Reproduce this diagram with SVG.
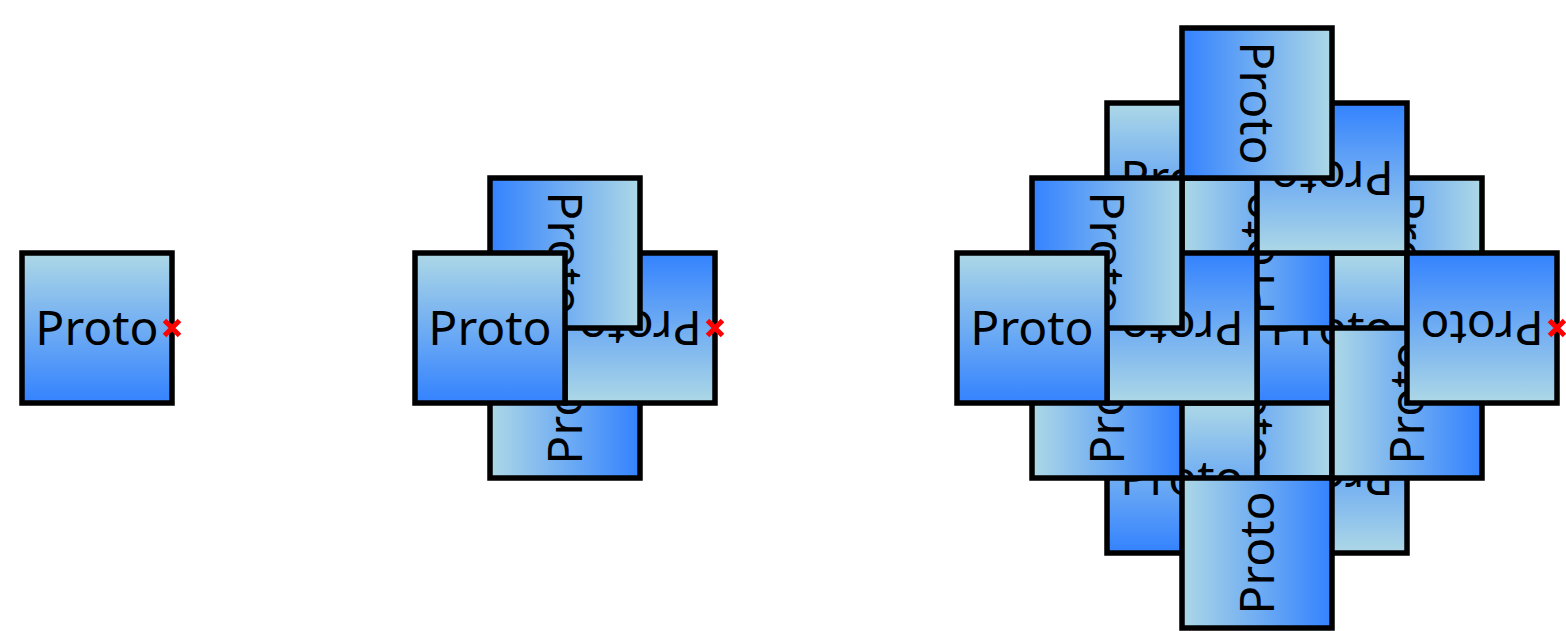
<svg xmlns="http://www.w3.org/2000/svg" width="1566" height="631" viewBox="0 0 1566 631">
<defs>
<linearGradient id="g" x1="0" y1="0" x2="0" y2="1">
<stop offset="0" stop-color="#add8e6"/>
<stop offset="1" stop-color="#3382ff"/>
</linearGradient>
<style>
.sq{fill:url(#g);stroke:#000;stroke-width:5.5}
.lb{font-family:"Noto Sans","DejaVu Sans",sans-serif;font-size:48px;fill:#000;text-anchor:middle}
.mk{stroke:#ff0000;stroke-width:5;fill:none}
</style>
</defs>
<rect width="1566" height="631" fill="#ffffff"/>
<g id="connectors"/>
<!-- level 0 -->
<g id="l0" transform="translate(97,328) rotate(0)"><rect class="sq" x="-75" y="-75" width="150" height="150"/><text class="lb" x="0" y="17">Proto</text></g>
<!-- level 1 -->
<g id="l1-270" transform="translate(565,403) rotate(270)"><rect class="sq" x="-75" y="-75" width="150" height="150"/><text class="lb" x="0" y="17">Proto</text></g>
<g id="l1-180" transform="translate(640,328) rotate(180)"><rect class="sq" x="-75" y="-75" width="150" height="150"/><text class="lb" x="0" y="17">Proto</text></g>
<g id="l1-90" transform="translate(565,253) rotate(90)"><rect class="sq" x="-75" y="-75" width="150" height="150"/><text class="lb" x="0" y="17">Proto</text></g>
<g id="l1-0" transform="translate(490,328) rotate(0)"><rect class="sq" x="-75" y="-75" width="150" height="150"/><text class="lb" x="0" y="17">Proto</text></g>
<!-- level 2, copy rotated 270 -->
<g id="l2-a1" transform="translate(1332,478) rotate(180)"><rect class="sq" x="-75" y="-75" width="150" height="150"/><text class="lb" x="0" y="17">Proto</text></g>
<g id="l2-a2" transform="translate(1257,403) rotate(90)"><rect class="sq" x="-75" y="-75" width="150" height="150"/><text class="lb" x="0" y="17">Proto</text></g>
<g id="l2-a3" transform="translate(1182,478) rotate(0)"><rect class="sq" x="-75" y="-75" width="150" height="150"/><text class="lb" x="0" y="17">Proto</text></g>
<g id="l2-a4" transform="translate(1257,553) rotate(270)"><rect class="sq" x="-75" y="-75" width="150" height="150"/><text class="lb" x="0" y="17">Proto</text></g>
<!-- level 2, copy rotated 180 -->
<g id="l2-b1" transform="translate(1407,253) rotate(90)"><rect class="sq" x="-75" y="-75" width="150" height="150"/><text class="lb" x="0" y="17">Proto</text></g>
<g id="l2-b2" transform="translate(1332,328) rotate(0)"><rect class="sq" x="-75" y="-75" width="150" height="150"/><text class="lb" x="0" y="17">Proto</text></g>
<g id="l2-b3" transform="translate(1407,403) rotate(270)"><rect class="sq" x="-75" y="-75" width="150" height="150"/><text class="lb" x="0" y="17">Proto</text></g>
<g id="l2-b4" transform="translate(1482,328) rotate(180)"><rect class="sq" x="-75" y="-75" width="150" height="150"/><text class="lb" x="0" y="17">Proto</text></g>
<!-- level 2, copy rotated 90 -->
<g id="l2-c1" transform="translate(1182,178) rotate(0)"><rect class="sq" x="-75" y="-75" width="150" height="150"/><text class="lb" x="0" y="17">Proto</text></g>
<g id="l2-c2" transform="translate(1257,253) rotate(270)"><rect class="sq" x="-75" y="-75" width="150" height="150"/><text class="lb" x="0" y="17">Proto</text></g>
<g id="l2-c3" transform="translate(1332,178) rotate(180)"><rect class="sq" x="-75" y="-75" width="150" height="150"/><text class="lb" x="0" y="17">Proto</text></g>
<g id="l2-c4" transform="translate(1257,103) rotate(90)"><rect class="sq" x="-75" y="-75" width="150" height="150"/><text class="lb" x="0" y="17">Proto</text></g>
<!-- level 2, copy rotated 0 -->
<g id="l2-d1" transform="translate(1107,403) rotate(270)"><rect class="sq" x="-75" y="-75" width="150" height="150"/><text class="lb" x="0" y="17">Proto</text></g>
<g id="l2-d2" transform="translate(1182,328) rotate(180)"><rect class="sq" x="-75" y="-75" width="150" height="150"/><text class="lb" x="0" y="17">Proto</text></g>
<g id="l2-d3" transform="translate(1107,253) rotate(90)"><rect class="sq" x="-75" y="-75" width="150" height="150"/><text class="lb" x="0" y="17">Proto</text></g>
<g id="l2-d4" transform="translate(1032,328) rotate(0)"><rect class="sq" x="-75" y="-75" width="150" height="150"/><text class="lb" x="0" y="17">Proto</text></g>
<!-- pivot markers -->
<g id="m0" transform="translate(172,328)"><path class="mk" d="M-7.5,-7.5L7.5,7.5M-7.5,7.5L7.5,-7.5"/></g>
<g id="m1" transform="translate(715,328)"><path class="mk" d="M-7.5,-7.5L7.5,7.5M-7.5,7.5L7.5,-7.5"/></g>
<g id="m2" transform="translate(1557,328)"><path class="mk" d="M-7.5,-7.5L7.5,7.5M-7.5,7.5L7.5,-7.5"/></g>
</svg>
